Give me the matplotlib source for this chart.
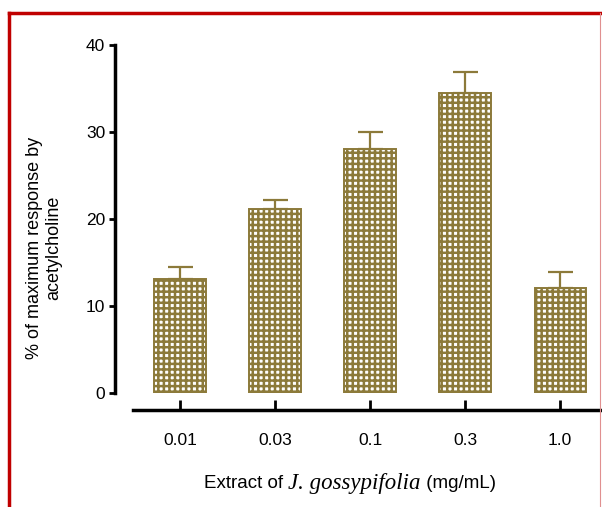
import numpy as np
import matplotlib.pyplot as plt
from matplotlib.lines import Line2D
from matplotlib.offsetbox import TextArea, HPacker, AnnotationBbox

plt.rcParams['font.family'] = ['Liberation Sans', 'DejaVu Sans']
plt.rcParams['hatch.linewidth'] = 1.8

doses = ["0.01", "0.03", "0.1", "0.3", "1.0"]
means = [13.1, 21.1, 28.0, 34.5, 12.1]
errors = [1.4, 1.1, 2.0, 2.4, 1.8]

olive = "#8C7A3A"

fig = plt.figure(figsize=(6.02, 5.07), dpi=100)
ax = fig.add_axes([115 / 602, 1 - 393 / 507, (602 - 115) / 602, (393 - 45) / 507])

x = np.arange(len(doses))
ax.bar(x, means, width=0.54, color="white", edgecolor=olive, hatch="+++",
       linewidth=1.4)
ax.errorbar(x, means, yerr=[np.zeros(len(errors)), errors], fmt="none",
            ecolor=olive, elinewidth=1.6, capsize=9, capthick=1.6)

ax.set_xlim(-0.684, 4.44)
ax.set_ylim(0, 40)
ax.set_yticks([0, 10, 20, 30, 40])
ax.set_xticks(x)
ax.set_xticklabels(doses)

for s in ["top", "right"]:
    ax.spines[s].set_visible(False)
ax.spines["left"].set_linewidth(2.5)
ax.spines["bottom"].set_linewidth(2.5)
ax.spines["bottom"].set_position(("outward", 12))
ax.spines["bottom"].set_bounds(-0.49, 4.44)

ax.tick_params(axis="y", direction="out", length=4, width=2, labelsize=12.5, pad=3)
ax.tick_params(axis="x", direction="in", length=7, width=2, labelsize=12.5, pad=17)

ax.set_ylabel("% of maximum response by\nacetylcholine", fontsize=13)
ax.yaxis.set_label_coords(-0.108, 0.417)

# x label with italic serif species name
parts = [
    TextArea("Extract of ", textprops=dict(fontsize=13.5, family="Liberation Sans")),
    TextArea("J. gossypifolia", textprops=dict(fontsize=16.5, family="Liberation Serif",
                                               style="italic")),
    TextArea(" (mg/mL)", textprops=dict(fontsize=13.5, family="Liberation Sans")),
]
box = HPacker(children=parts, align="baseline", pad=0, sep=0)
ab = AnnotationBbox(box, (350 / 602, 1 - 483 / 507), xycoords="figure fraction",
                    frameon=False, box_alignment=(0.5, 0.5))
fig.add_artist(ab)

# red frame
fig.add_artist(Line2D([9 / 602, 9 / 602], [0, 1 - 13 / 507], transform=fig.transFigure,
                      color="#C00000", linewidth=2.5, solid_capstyle="projecting"))
fig.add_artist(Line2D([9 / 602, 1], [1 - 13 / 507, 1 - 13 / 507], transform=fig.transFigure,
                      color="#C00000", linewidth=2.5, solid_capstyle="projecting"))
fig.add_artist(Line2D([600 / 602, 600 / 602], [0, 1 - 13 / 507], transform=fig.transFigure,
                      color="#E09090", linewidth=0.8))

fig.savefig("out.png", dpi=100)
